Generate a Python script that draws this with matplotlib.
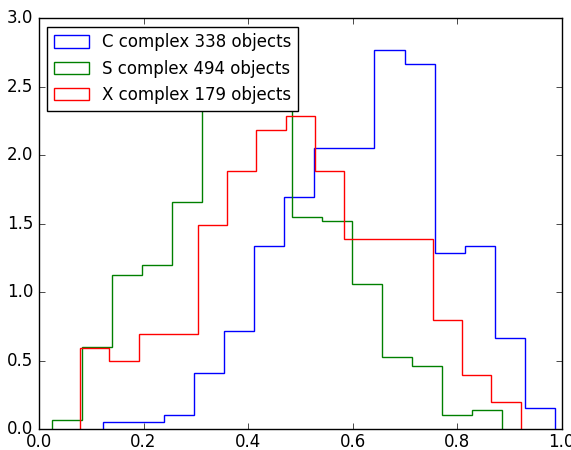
import numpy as np
import matplotlib
matplotlib.use("Agg")
import matplotlib.pyplot as plt
from matplotlib.patches import Rectangle

plt.style.use("classic")

# Histogram data: counts per bin and data range of each series (15 bins each)
labels = ["C complex 338 objects", "S complex 494 objects", "X complex 179 objects"]
colors = ["b", "g", "r"]

c_counts = [1, 1, 2, 8, 14, 26, 33, 40, 40, 54, 52, 25, 26, 13, 3]
c_range = (0.123, 0.9875)

s_counts = [2, 17, 32, 34, 47, 68, 74, 68, 44, 43, 30, 15, 13, 3, 4]
s_range = (0.0248, 0.8850)

x_counts = [6, 5, 7, 7, 15, 19, 22, 23, 19, 14, 14, 14, 8, 4, 2]
x_range = (0.0784, 0.9216)

series = [(c_counts, c_range), (s_counts, s_range), (x_counts, x_range)]

fig = plt.figure(figsize=(5.71, 4.5), dpi=100)
ax = fig.add_axes([39 / 571, (450 - 429.3) / 450, 522.7 / 571, (429.3 - 18.3) / 450])

handles = []
for (counts, rng), col, lab in zip(series, colors, labels):
    edges = np.linspace(rng[0], rng[1], len(counts) + 1)
    centers = 0.5 * (edges[:-1] + edges[1:])
    ax.hist(centers, bins=edges, weights=counts, density=True,
            histtype="step", color=col, linewidth=1.0)
    handles.append(Rectangle((0, 0), 1, 1, fill=False, edgecolor=col,
                             linewidth=1.0, label=lab))

ax.set_xlim(0, 1.0)
ax.set_ylim(0, 3.0)
ax.set_xticks([0.0, 0.2, 0.4, 0.6, 0.8, 1.0])
ax.set_yticks([0.0, 0.5, 1.0, 1.5, 2.0, 2.5, 3.0])
ax.tick_params(labelsize=12)
ax.tick_params(axis="x", pad=3)

leg = ax.legend(handles=handles, loc="upper left", fontsize=12, handlelength=2.1,
                handleheight=0.75, handletextpad=0.8, borderpad=0.4,
                labelspacing=0.5, borderaxespad=0.5, fancybox=False, shadow=False)
leg.get_frame().set_facecolor("white")

fig.savefig("out.png", dpi=100, facecolor="white")
